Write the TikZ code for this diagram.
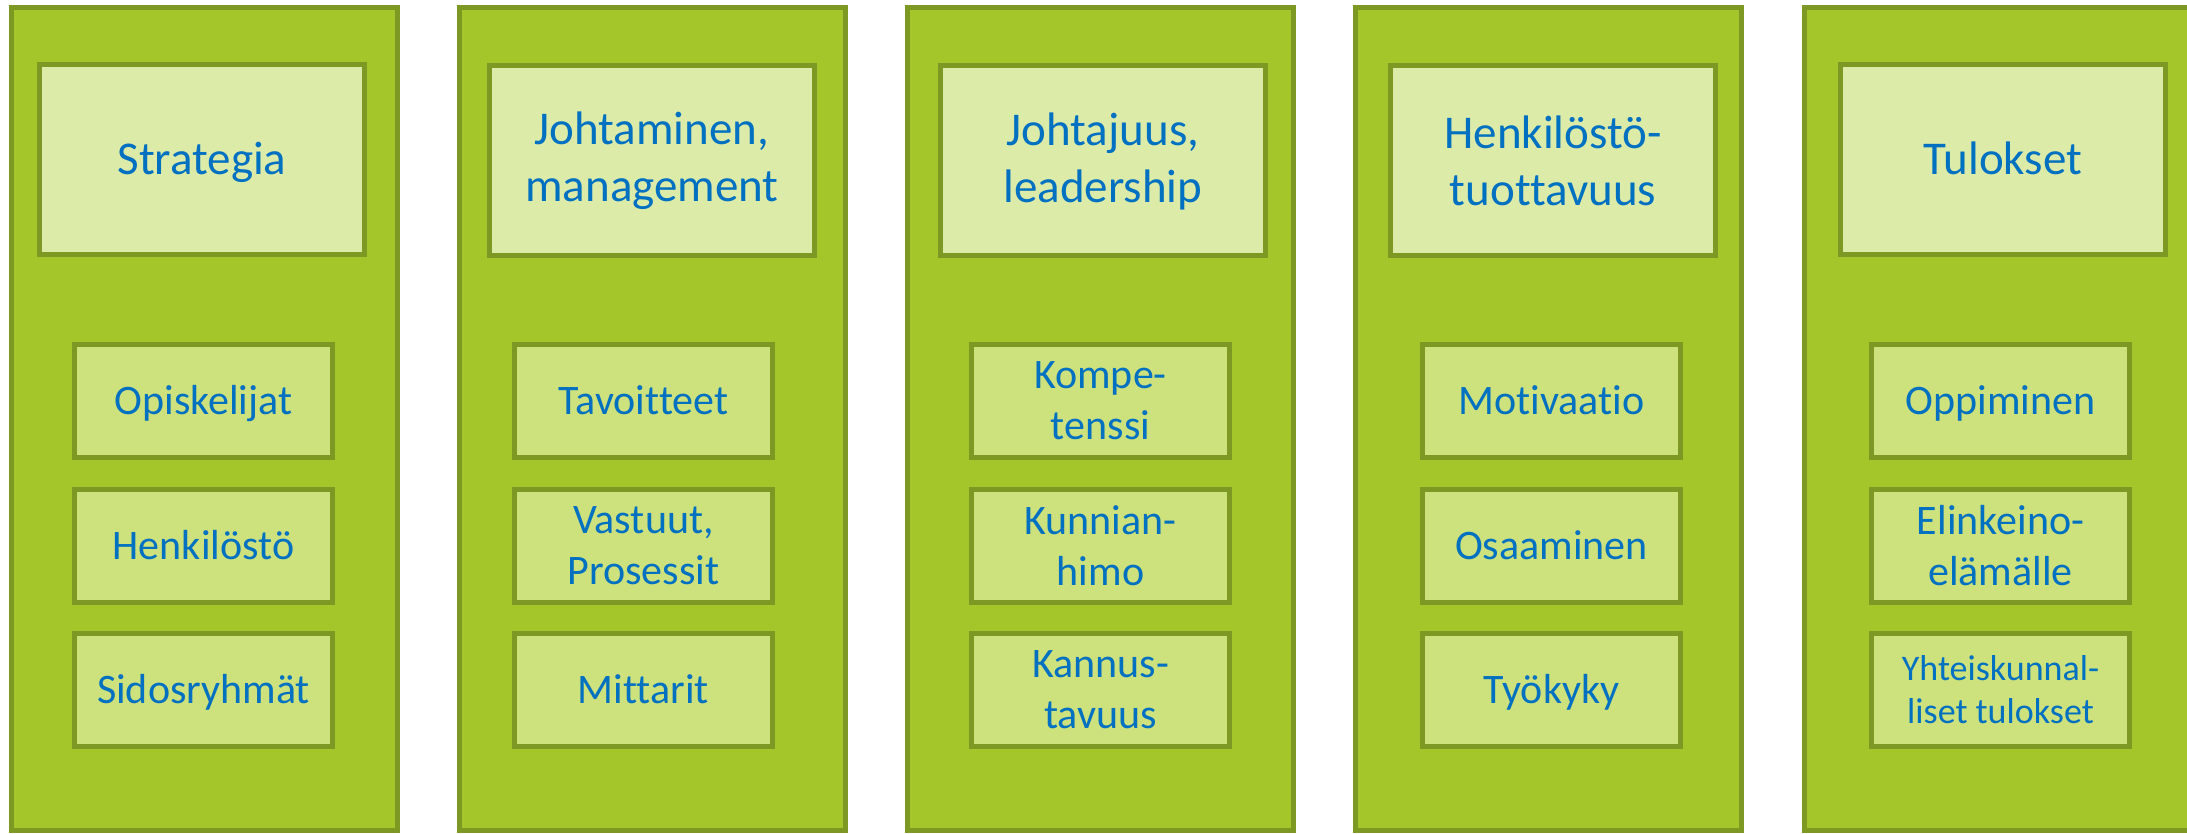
\documentclass[tikz,border=0pt]{standalone}
\usepackage{fontspec}
\setmainfont{Carlito}[Ligatures=NoCommon]
\definecolor{outerfill}{HTML}{A5C62B}
\definecolor{bordergreen}{HTML}{7D9823}
\definecolor{headfill}{HTML}{DDEBA8}
\definecolor{subfill}{HTML}{CDE17C}
\definecolor{txtblue}{HTML}{0070C0}
\tikzset{
  colbox/.style={draw=bordergreen, fill=outerfill, line width=5pt, minimum width=386pt, minimum height=823pt, inner sep=0pt},
  headbox/.style={draw=bordergreen, fill=headfill, line width=5pt, minimum width=325pt, minimum height=190pt, inner sep=0pt, align=center, text=txtblue, font=\fontsize{47}{57}\selectfont},
  subbox/.style={draw=bordergreen, fill=subfill, line width=5pt, minimum width=258pt, minimum height=113pt, inner sep=0pt, align=center, text=txtblue, font=\fontsize{42}{51}\selectfont},
  headone/.style={text height=30pt, text depth=0pt},
  subone/.style={text height=27pt, text depth=0pt},
  smalltext/.style={font=\fontsize{36}{43}\selectfont}
}
\begin{document}
\begin{tikzpicture}[x=1pt, y=-1pt]
\useasboundingbox (0,0) rectangle (2187,834);
\fill[white] (0,0) rectangle (2187,834);
% columns
\node[colbox] (c1) at (204.5,419) {};
\node[colbox] (c2) at (652.5,419) {};
\node[colbox] (c3) at (1100.5,419) {};
\node[colbox] (c4) at (1548.5,419) {};
\node[colbox] (c5) at (1997.5,419) {};
% headers
\node[headbox, headone] (h1) at (202,159.5) {Strategia};
\node[headbox] (h2) at (652,161) {Johtaminen,\\management};
\node[headbox] (h3) at (1103,161) {Johtajuus,\\leadership};
\node[headbox] (h4) at (1553,161) {Henkilöstö-\\tuottavuus};
\node[headbox, headone] (h5) at (2003,159.5) {Tulokset};
% column 1
\node[subbox, subone] (s11) at (203.5,401) {Opiskelijat};
\node[subbox, subone] (s12) at (203.5,545.5) {Henkilöstö};
\node[subbox, subone] (s13) at (203.5,689.5) {Sidosryhmät};
% column 2
\node[subbox, subone] (s21) at (643.5,401) {Tavoitteet};
\node[subbox] (s22) at (643.5,545.5) {Vastuut,\\Prosessit};
\node[subbox, subone] (s23) at (643.5,689.5) {Mittarit};
% column 3
\node[subbox] (s31) at (1100.5,401) {Kompe-\\tenssi};
\node[subbox] (s32) at (1100.5,545.5) {Kunnian-\\himo};
\node[subbox] (s33) at (1100.5,689.5) {Kannus-\\tavuus};
% column 4
\node[subbox, subone] (s41) at (1551.5,401) {Motivaatio};
\node[subbox, subone] (s42) at (1551.5,545.5) {Osaaminen};
\node[subbox, subone] (s43) at (1551.5,689.5) {Työkyky};
% column 5
\node[subbox, subone] (s51) at (2000.5,401) {Oppiminen};
\node[subbox] (s52) at (2000.5,545.5) {Elinkeino-\\elämälle};
\node[subbox, smalltext] (s53) at (2000.5,689.5) {Yhteiskunnal-\\liset tulokset};
\end{tikzpicture}
\end{document}
